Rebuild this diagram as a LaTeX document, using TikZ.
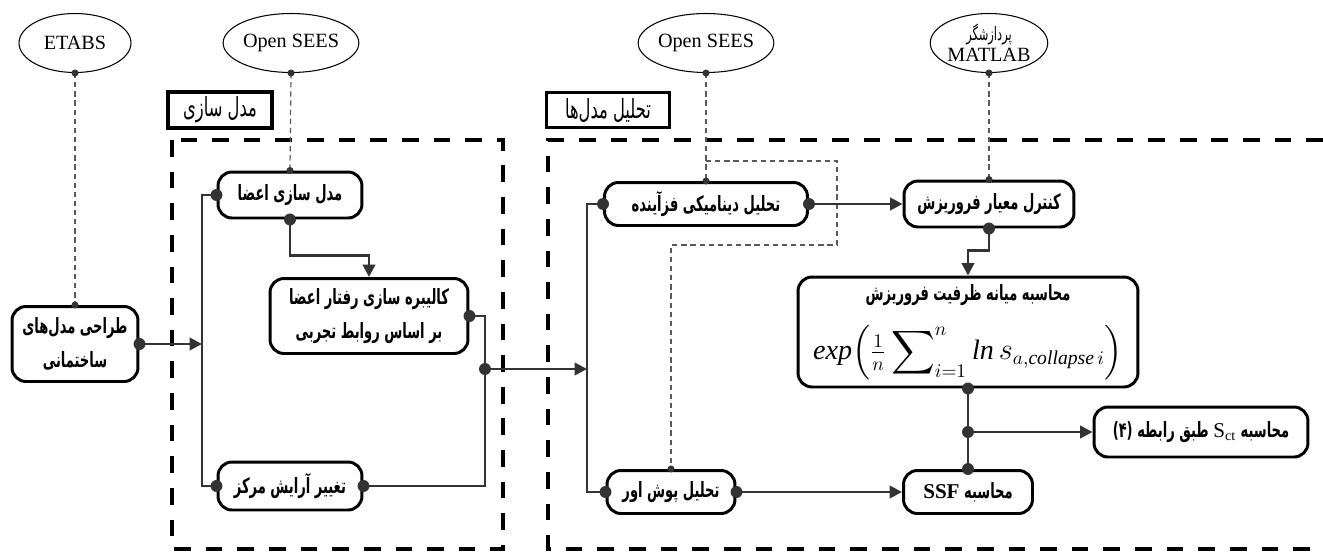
\documentclass[tikz,border=0pt]{standalone}
\usepackage{amsmath}
\usepackage{fontspec}
\setmainfont{Liberation Serif}
\newfontfamily\fa[Script=Arabic,FakeStretch=0.62]{DejaVu Sans}
\TeXXeTstate=1
\usetikzlibrary{shapes.geometric,arrows.meta,positioning,calc}

\newcommand{\rtl}[1]{\beginR#1\endR}
\newcommand{\ltxt}[1]{\text{\rmfamily\mdseries\itshape #1}}
\newcommand{\dotbig}{3.4pt}
\newcommand{\dotsmall}{2pt}

\tikzset{
  ell/.style={ellipse,draw,line width=0.6pt,minimum width=2.24cm,minimum height=1.18cm,inner sep=0pt,font=\fontsize{11.5}{12}\selectfont},
  proc/.style={draw,rounded corners=0.28cm,line width=1.7pt,align=center,inner sep=0pt,font=\fa\bfseries\fontsize{12}{19}\selectfont},
  tag/.style={draw,line width=1.9pt,inner sep=0pt,font=\fa\fontsize{15}{16}\selectfont},
  region/.style={line width=2.8pt,dash pattern=on 9.5pt off 8.5pt},
  conn/.style={draw=black!80,line width=1.5pt},
  flow/.style={conn,-{Triangle[length=7pt,width=7pt]}},
  link/.style={draw=black!65,line width=0.7pt,dash pattern=on 3pt off 2.2pt},
}

\begin{document}
\begin{tikzpicture}[x=0.02cm,y=-0.02cm]
  \useasboundingbox (0,0) rectangle (1323,552);
  % the two dashed regions
  \draw[region] (172,140) rectangle (503,549);
  \draw[region] (1323,140) -- (548,140) -- (548,549) -- (1323,549);
  % software
  \node[ell] (etabs) at (75,43) {ETABS};
  \node[ell] (oseesA) at (291,43) {Open SEES};
  \node[ell] (oseesB) at (706,43) {Open SEES};
  \node[ell,align=center] (matlab) at (989,43) {{\fa\fontsize{10.5}{13}\selectfont\rtl{پردازشگر}}\\MATLAB};
  % region titles
  \node[tag,minimum width=2.08cm,minimum height=0.72cm] (tagA) at (220,110) {\rtl{مدل سازی}};
  \node[tag,minimum width=2.46cm,minimum height=0.70cm] (tagB) at (608,110) {\rtl{تحلیل مدل‌ها}};
  % steps
  \node[proc,minimum width=2.52cm,minimum height=1.5cm] (design) at (75,344) {\rtl{طراحی مدل‌های}\\\rtl{ساختمانی}};
  \node[proc,minimum width=2.88cm,minimum height=0.92cm] (memb) at (290,195) {\rtl{مدل سازی اعضا}};
  \node[proc,minimum width=3.96cm,minimum height=1.5cm] (calib) at (369,316) {\rtl{کالیبره سازی رفتار اعضا}\\\rtl{بر اساس روابط تجربی}};
  \node[proc,minimum width=2.88cm,minimum height=0.96cm] (core) at (290,486) {\rtl{تغییر آرایش مرکز}};
  \node[proc,minimum width=4.06cm,minimum height=0.86cm] (ida) at (706,204) {\rtl{تحلیل دینامیکی فزآینده}};
  \node[proc,minimum width=3.4cm,minimum height=0.92cm] (crit) at (989,204) {\rtl{کنترل معیار فروریزش}};
  \node[proc,minimum width=6.8cm,minimum height=2.2cm] (median) at (968,332)
    {\rtl{محاسبه میانه ظرفیت فروریزش}\\[10pt]
     {\rmfamily\mdseries\fontsize{16}{18}\selectfont$\displaystyle\ltxt{exp}\!\left(\tfrac{1}{n}\sum\nolimits_{i=1}^{n}\ltxt{ln}\,s_{a,\ltxt{collapse}\,i}\right)$}};
  \node[proc,minimum width=2.56cm,minimum height=0.86cm] (push) at (671,492) {\rtl{تحلیل پوش اور}};
  \node[proc,minimum width=2.58cm,minimum height=0.86cm] (ssf) at (968,492) {\rtl{محاسبه \beginL{\rmfamily\bfseries SSF}\endL}};
  \node[proc,minimum width=4.28cm,minimum height=1.0cm] (sct) at (1201,432) {\rtl{محاسبه \beginL{\rmfamily\mdseries S\textsubscript{ct}}\endL{} طبق رابطه (۴)}};
  % junctions
  \coordinate (busA) at (202,344);
  \coordinate (juncA) at (485,369);
  \coordinate (busB) at (587,369);
  \coordinate (juncB) at (968,432);
  \coordinate (tap) at (706,161);
  \coordinate (bendB) at (837,245);
  % dashed links to software
  \draw[link] (etabs.south) -- (design.north);
  \draw[link] (oseesA.south) -- (memb.north);
  \draw[link] (oseesB.south) -- (ida.north);
  \draw[link] (matlab.south) -- (crit.north);
  \draw[link] (tap) -| (bendB) -| (push.north);
  % flow
  \draw[flow] (design.east) -- (busA);
  \draw[conn] (memb.west) -| (busA) |- (core.west);
  \draw[flow] (memb.south) -- ++(0,36) -| (calib.north);
  \draw[conn] (calib.east) -| (juncA);
  \draw[conn] (core.east) -| (juncA);
  \draw[flow] (juncA) -- (busB);
  \draw[conn] (ida.west) -| (busB) |- (push.west);
  \draw[flow] (ida.east) -- (crit.west);
  \draw[flow] (crit.south) -- ++(0,22) -| (median.north);
  \draw[conn] (median.south) -- (ssf.north);
  \draw[flow] (juncB) -- (sct.west);
  \draw[flow] (push.east) -- (ssf.west);
  % dots
  \foreach \p in {design.east, memb.west, memb.south, calib.east, juncA, core.west, core.east,
                  ida.west, ida.east, push.west, push.east, crit.south, median.south, juncB, ssf.north}
    \fill[black!80] (\p) circle (\dotbig);
  \foreach \p in {etabs.south, design.north, oseesA.south, memb.north, oseesB.south, ida.north,
                  matlab.south, crit.north, push.north}
    \fill[black!80] (\p) circle (\dotsmall);
\end{tikzpicture}
\end{document}
